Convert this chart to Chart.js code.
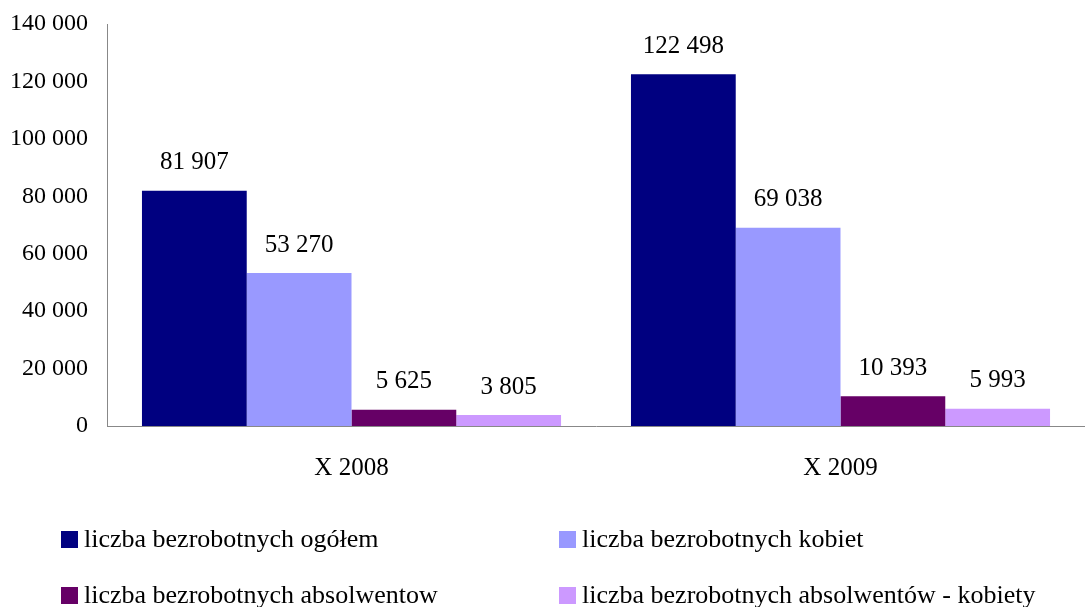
<!DOCTYPE html>
<html>
<head>
<meta charset="utf-8">
<script src="https://cdn.jsdelivr.net/npm/chart.js@4/dist/chart.umd.min.js"></script>
<style>
    body { margin: 0; background: #fff; }
    #wrap { position: relative; width: 1085px; height: 607px; }
    #chart { position: absolute; left: 0; top: 0; }
    .legend-item {
        position: absolute;
        font-family: "Liberation Serif", "Times New Roman", serif;
        font-size: 26px;
        color: #000;
        white-space: nowrap;
        line-height: 26px;
    }
    .legend-item span.box {
        display: inline-block;
        width: 17px;
        height: 17px;
        margin-right: 6px;
        vertical-align: -1px;
    }
</style>
</head>
<body>
<div id="wrap">
    <canvas id="chart" width="1085" height="607"></canvas>
    <div id="legend"></div>
</div>
<script>
const categories = ['X 2008', 'X 2009'];
const seriesNames = [
    'liczba bezrobotnych ogółem',
    'liczba bezrobotnych kobiet',
    'liczba bezrobotnych absolwentow',
    'liczba bezrobotnych absolwentów - kobiety'
];
const totalUnemployed = [81907, 122498];
const unemployedWomen = [53270, 69038];
const unemployedGraduates = [5625, 10393];
const unemployedGraduatesWomen = [3805, 5993];
const seriesColors = ['#000080', '#9999FF', '#660066', '#CC99FF'];
const yTicks = [0, 20000, 40000, 60000, 80000, 100000, 120000, 140000];

const serifFont = '"Liberation Serif", "Times New Roman", serif';

function formatNumber(value)
{
    return String(value).replace(/\B(?=(\d{3})+(?!\d))/g, ' ');
}

// value labels above each bar
const valueLabelPlugin = {
    id: 'valueLabelPlugin',
    afterDatasetsDraw(chart)
    {
        const { ctx } = chart;
        ctx.save();
        ctx.font = '25px ' + serifFont;
        ctx.fillStyle = '#000';
        ctx.textAlign = 'center';
        ctx.textBaseline = 'middle';
        chart.data.datasets.forEach((dataset, i) =>
        {
            const meta = chart.getDatasetMeta(i);
            meta.data.forEach((bar, j) =>
            {
                ctx.fillText(formatNumber(dataset.data[j]), bar.x, bar.y - 28);
            });
        });
        ctx.restore();
    }
};

const allSeries = [totalUnemployed, unemployedWomen, unemployedGraduates, unemployedGraduatesWomen];

const chartData = {
    labels: categories,
    datasets: seriesNames.map((name, index) => ({
        label: name,
        data: allSeries[index],
        backgroundColor: seriesColors[index],
        borderWidth: 0,
        categoryPercentage: 0.857,
        barPercentage: 1.0
    }))
};

const options = {
    responsive: false,
    animation: false,
    layout: {
        padding: { top: 24, right: 0, bottom: 97, left: 0 }
    },
    plugins: {
        legend: { display: false },
        tooltip: { enabled: false },
        title: { display: false }
    },
    scales: {
        x: {
            grid: { display: false, drawTicks: false },
            border: { display: true, color: '#888888', width: 1 },
            ticks: {
                color: '#000',
                padding: 27,
                font: { family: serifFont, size: 25 }
            }
        },
        y: {
            min: 0,
            max: 140000,
            afterBuildTicks: (axis) =>
            {
                axis.ticks = yTicks.map(v => ({ value: v }));
            },
            afterFit: (scale) =>
            {
                scale.width = 107;
                scale.paddingTop = 0;
                scale.paddingBottom = 0;
            },
            grid: { display: false, drawTicks: false },
            border: { display: true, color: '#888888', width: 1 },
            ticks: {
                color: '#000',
                padding: 19,
                font: { family: serifFont, size: 24 },
                callback: (value) => formatNumber(value)
            }
        }
    }
};

new Chart(document.getElementById('chart').getContext('2d'), {
    type: 'bar',
    data: chartData,
    options: options,
    plugins: [valueLabelPlugin]
});

// legend in two columns below the chart
const legendPositions = [
    { left: 61, top: 526 },
    { left: 559, top: 526 },
    { left: 61, top: 582 },
    { left: 559, top: 582 }
];
const legendEl = document.getElementById('legend');
seriesNames.forEach((name, index) =>
{
    const item = document.createElement('div');
    item.className = 'legend-item';
    item.style.left = legendPositions[index].left + 'px';
    item.style.top = legendPositions[index].top + 'px';
    const box = document.createElement('span');
    box.className = 'box';
    box.style.background = seriesColors[index];
    item.appendChild(box);
    item.appendChild(document.createTextNode(name));
    legendEl.appendChild(item);
});
</script>
</body>
</html>
